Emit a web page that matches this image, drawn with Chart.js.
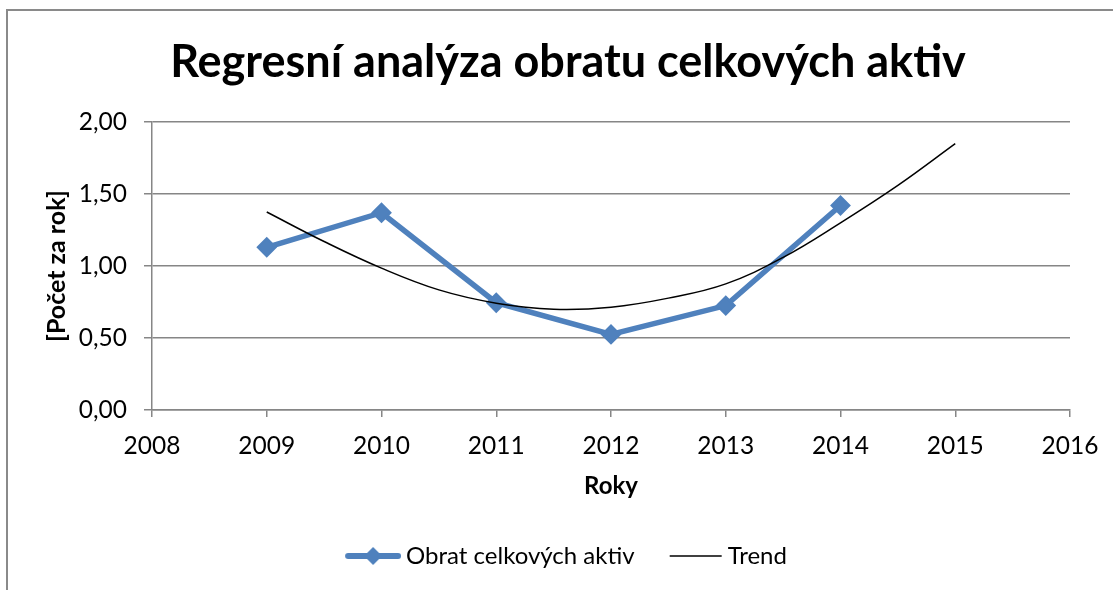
<!DOCTYPE html>
<html>
<head>
<meta charset="utf-8">
<script src="https://cdn.jsdelivr.net/npm/chart.js@4/dist/chart.umd.min.js"></script>
<style>
  html, body { margin: 0; padding: 0; background: #fff; }
  #wrap { position: relative; width: 1113px; height: 590px; overflow: hidden; }
  #frame { position: absolute; left: 6px; top: 9px; width: 1300px; height: 800px; border-left: 2px solid #8a8a8a; border-top: 2px solid #8a8a8a; }
  canvas { position: absolute; left: 0; top: 0; }
</style>
</head>
<body>
<div id="wrap">
  <div id="frame"></div>
  <canvas id="c" width="1113" height="590"></canvas>
</div>
<script>
// ---- data ----
const seriesYears = [2009, 2010, 2011, 2012, 2013, 2014];
const seriesValues = [1.13, 1.37, 0.745, 0.525, 0.725, 1.42];
const trendYears = [2009, 2009.5, 2010, 2010.5, 2011, 2011.5, 2012, 2012.5, 2013, 2013.5, 2014, 2014.5, 2015];
const trendValues = [1.375, 1.17, 0.985, 0.834, 0.742, 0.70, 0.714, 0.777, 0.876, 1.06, 1.30, 1.56, 1.85];
const xTickLabels = ['2008', '2009', '2010', '2011', '2012', '2013', '2014', '2015', '2016'];
const yTickLabels = ['0,00', '0,50', '1,00', '1,50', '2,00'];
const seriesLabel = 'Obrat celkových aktiv';
const trendLabel = 'Trend';
const chartTitle = 'Regresní analýza obratu celkových aktiv';
const xTitle = 'Roky';
const yTitle = '[Počet za rok]';

const BLUE = '#4F81BD';
const GRID = '#868686';
const FONT = 'Lato';

function makeIcon(kind) {
  const c = document.createElement('canvas');
  c.width = 70; c.height = 22;
  const g = c.getContext('2d');
  if (kind === 'series') {
    g.strokeStyle = BLUE; g.lineWidth = 6; g.lineCap = 'round';
    g.beginPath(); g.moveTo(17, 11); g.lineTo(67, 11); g.stroke();
    g.fillStyle = BLUE;
    g.beginPath(); g.moveTo(42, 2); g.lineTo(51, 11); g.lineTo(42, 20); g.lineTo(33, 11); g.closePath(); g.fill();
  } else {
    g.strokeStyle = '#000'; g.lineWidth = 1.5;
    g.beginPath(); g.moveTo(17, 11); g.lineTo(69, 11); g.stroke();
  }
  return c;
}
const icons = [makeIcon('series'), makeIcon('trend')];

// shift legend and title boxes so they centre on the whole frame, as in the reference
const boxShift = {
  id: 'boxShift',
  afterLayout(chart) {
    if (chart.legend) { chart.legend.left += 27.5; chart.legend.right += 27.5; }
    if (chart.titleBlock) { chart.titleBlock.left += 33; chart.titleBlock.right += 33; }
  }
};

new Chart(document.getElementById('c'), {
  type: 'line',
  plugins: [boxShift],
  data: {
    datasets: [
      {
        label: seriesLabel,
        data: seriesYears.map((x, i) => ({ x, y: seriesValues[i] })),
        borderColor: BLUE,
        backgroundColor: BLUE,
        borderWidth: 5.5,
        pointStyle: 'rectRot',
        pointRadius: 9,
        pointBorderWidth: 2,
        pointBackgroundColor: BLUE,
        pointBorderColor: BLUE,
        tension: 0,
        order: 2
      },
      {
        label: trendLabel,
        data: trendYears.map((x, i) => ({ x, y: trendValues[i] })),
        borderColor: '#000',
        backgroundColor: '#000',
        borderWidth: 1.5,
        pointRadius: 0,
        tension: 0.4,
        order: 1
      }
    ]
  },
  options: {
    responsive: false,
    devicePixelRatio: 1,
    animation: false,
    layout: { padding: { left: 0, right: 43, top: 0, bottom: 12 } },
    plugins: {
      tooltip: { enabled: false },
      title: {
        display: true,
        text: chartTitle,
        color: '#000',
        font: { family: FONT, size: 45, weight: 'bold' },
        padding: { top: 35, bottom: 33 }
      },
      legend: {
        position: 'bottom',
        labels: {
          usePointStyle: true,
          pointStyleWidth: 56,
          padding: 25,
          color: '#000',
          font: { family: FONT, size: 24 },
          generateLabels(chart) {
            return chart.data.datasets.map((ds, i) => ({
              text: ds.label,
              pointStyle: icons[i],
              fillStyle: ds.borderColor,
              strokeStyle: ds.borderColor,
              lineWidth: 0,
              hidden: false,
              datasetIndex: i,
              fontColor: '#000'
            }));
          }
        }
      }
    },
    scales: {
      x: {
        type: 'linear',
        min: 2008,
        max: 2016,
        ticks: {
          stepSize: 1,
          color: '#000',
          padding: 14,
          font: { family: FONT, size: 24.5 },
          callback: (v) => xTickLabels[Math.round(v) - 2008]
        },
        grid: { drawOnChartArea: false, drawTicks: true, tickLength: 7, color: GRID, lineWidth: 1.5 },
        border: { color: GRID, width: 1.5 },
        title: {
          display: true,
          text: xTitle,
          color: '#000',
          font: { family: FONT, size: 24, weight: 'bold' },
          padding: { top: 0, bottom: 18 }
        },
        afterFit: (s) => { s.height = 109; }
      },
      y: {
        min: 0,
        max: 2,
        ticks: {
          stepSize: 0.5,
          color: '#000',
          padding: 17,
          font: { family: FONT, size: 24.5 },
          callback: (v, i) => yTickLabels[i]
        },
        grid: { color: GRID, lineWidth: 1.5, tickLength: 8 },
        border: { color: GRID, width: 1.5 },
        title: {
          display: true,
          text: yTitle,
          color: '#000',
          font: { family: FONT, size: 25, weight: 'bold' },
          padding: { top: 42, bottom: 0 }
        },
        afterFit: (s) => { s.width = 152; }
      }
    }
  }
});
</script>
</body>
</html>
